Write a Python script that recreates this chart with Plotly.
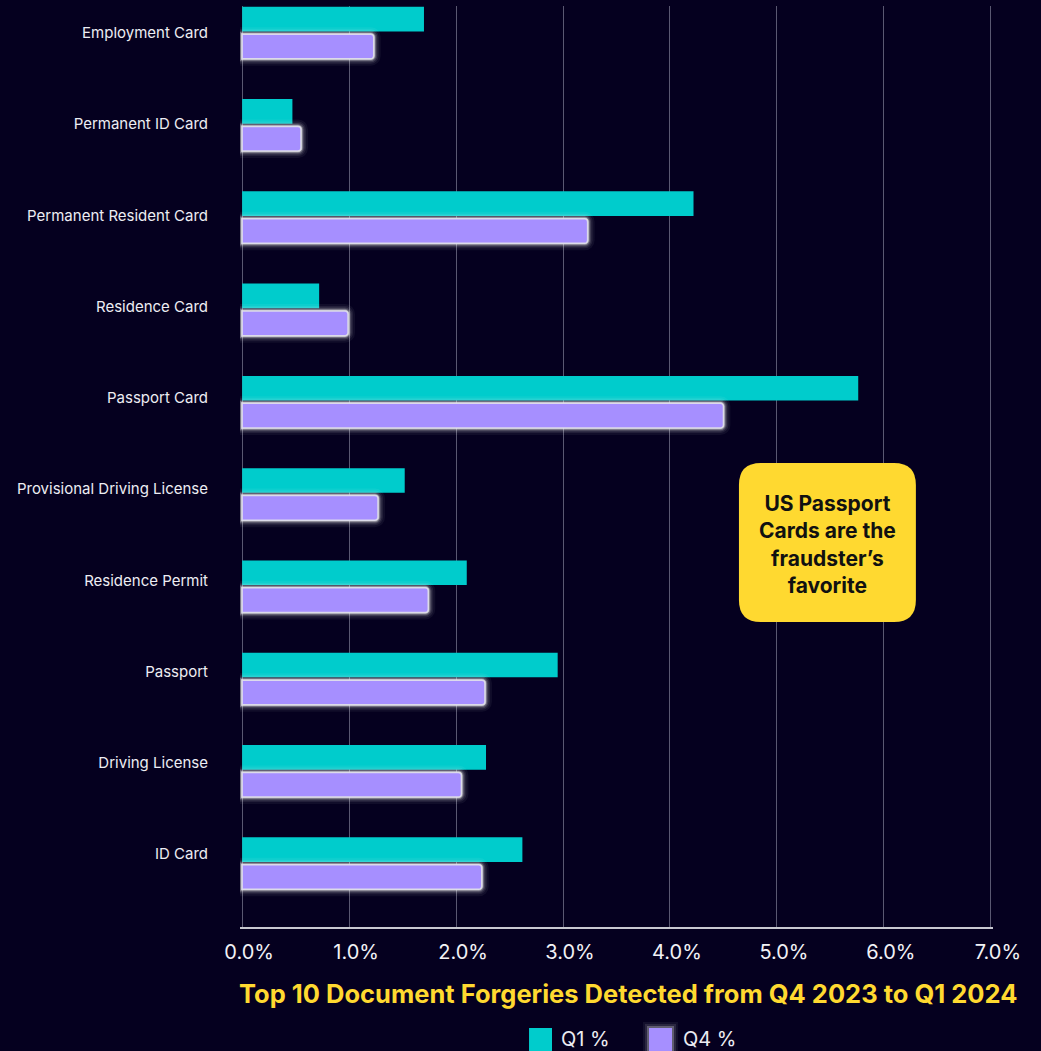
import plotly.graph_objects as go

# Document types, top to bottom
categories = [
    "Employment Card",
    "Permanent ID Card",
    "Permanent Resident Card",
    "Residence Card",
    "Passport Card",
    "Provisional Driving License",
    "Residence Permit",
    "Passport",
    "Driving License",
    "ID Card",
]
# Share of detected forgeries (%)
q1_pct = [1.70, 0.47, 4.22, 0.72, 5.76, 1.52, 2.10, 2.95, 2.28, 2.62]
q4_pct = [1.23, 0.55, 3.23, 0.99, 4.50, 1.27, 1.74, 2.27, 2.05, 2.24]

x_tick_vals = [0, 1, 2, 3, 4, 5, 6, 7]
x_tick_text = ["0.0%", "1.0%", "2.0%", "3.0%", "4.0%", "5.0%", "6.0%", "7.0%"]

BG = "#05001F"
CYAN = "#00CCCC"
LAVENDER = "#A68FFF"
YELLOW = "#FFD930"
FONT = "Inter"

# pixel frame of the 0%..7% span, used to place the callout, title and legend
L, R, T, B = 242, 991, 6, 927
X_PAD = 0.02                      # small range padding so the end gridlines draw
PX_PER_UNIT = (R - L) / 7
PAD_PX = X_PAD * PX_PER_UNIT
PL, PR = L - PAD_PX, R + PAD_PX   # actual plot-area edges


def fx(p):
    return (p - PL) / (PR - PL)


def fy(p):
    return (B - p) / (B - T)


BAR_W = 0.267
Q1_OFF = -0.282
Q4_OFF = 0.015

fig = go.Figure()

fig.add_trace(go.Bar(
    y=categories, x=q1_pct, orientation="h", name="Q1 %",
    width=BAR_W, offset=Q1_OFF,
    marker=dict(color=CYAN, line=dict(width=0)),
    showlegend=False,
))

# soft white halo behind the Q4 bars
for lw, alpha in [(14, 0.05), (10, 0.08), (7, 0.13), (4.5, 0.25), (2.5, 0.45)]:
    fig.add_trace(go.Bar(
        y=categories, x=q4_pct, orientation="h",
        width=BAR_W, offset=Q4_OFF,
        marker=dict(color="rgba(0,0,0,0)", cornerradius=3,
                    line=dict(width=lw, color=f"rgba(255,255,255,{alpha})")),
        hoverinfo="skip", showlegend=False,
    ))

fig.add_trace(go.Bar(
    y=categories, x=q4_pct, orientation="h", name="Q4 %",
    width=BAR_W, offset=Q4_OFF,
    marker=dict(color=LAVENDER, cornerradius=3,
                line=dict(width=1.5, color="rgba(225,225,235,0.9)")),
    showlegend=False,
))

# second category axis carrying only the row labels
fig.add_trace(go.Scatter(
    y=categories, x=[None] * len(categories), yaxis="y2",
    mode="markers", hoverinfo="skip", showlegend=False,
))

shapes = []
annotations = []

# rounded yellow callout
x0, x1 = fx(739), fx(916)
y0, y1 = fy(622), fy(463)
rx, ry = 22 / (PR - PL), 22 / (B - T)
path = (
    f"M {x0+rx},{y0} L {x1-rx},{y0} Q {x1},{y0} {x1},{y0+ry} "
    f"L {x1},{y1-ry} Q {x1},{y1} {x1-rx},{y1} "
    f"L {x0+rx},{y1} Q {x0},{y1} {x0},{y1-ry} "
    f"L {x0},{y0+ry} Q {x0},{y0} {x0+rx},{y0} Z"
)
shapes.append(dict(type="path", path=path, xref="paper", yref="paper",
                   fillcolor=YELLOW, line=dict(width=0), layer="above"))
annotations.append(dict(
    x=fx(827.5), y=fy(544), xref="paper", yref="paper",
    xanchor="center", yanchor="middle",
    text="<b>US Passport<br>Cards are the<br>fraudster’s<br>favorite</b>",
    showarrow=False, align="center",
    font=dict(family=FONT, size=21, color="#111111"),
))

# chart title under the axis
annotations.append(dict(
    x=fx(628), y=fy(993), xref="paper", yref="paper",
    text="<b>Top 10 Document Forgeries Detected from Q4 2023 to Q1 2024</b>",
    showarrow=False, xanchor="center", yanchor="middle",
    font=dict(family=FONT, size=25.5, color=YELLOW),
))

# legend
for (bx, tx, label, color, glow) in [(529, 559, "Q1 %", CYAN, False),
                                     (649, 681, "Q4 %", LAVENDER, True)]:
    if glow:
        for pad, alpha in [(6, 0.06), (4, 0.1), (2, 0.25)]:
            shapes.append(dict(
                type="rect", xref="paper", yref="paper",
                x0=fx(bx - pad), x1=fx(bx + 23 + pad),
                y0=fy(1051 + pad), y1=fy(1028 - pad),
                fillcolor=f"rgba(255,255,255,{alpha})", line=dict(width=0),
            ))
    shapes.append(dict(
        type="rect", xref="paper", yref="paper",
        x0=fx(bx), x1=fx(bx + 23), y0=fy(1051), y1=fy(1028),
        fillcolor=color, line=dict(width=0),
    ))
    annotations.append(dict(
        x=fx(tx), y=fy(1039), xref="paper", yref="paper",
        text=label, showarrow=False, xanchor="left", yanchor="middle",
        font=dict(family=FONT, size=20, color="#ECECF2"),
    ))

fig.update_layout(
    width=1041, height=1051,
    paper_bgcolor=BG, plot_bgcolor=BG,
    margin=dict(l=PL, r=1041 - PR, t=T, b=1051 - B, pad=0),
    barmode="overlay",
    showlegend=False,
    shapes=shapes,
    annotations=annotations,
    font=dict(family=FONT, color="#FFFFFF"),
    xaxis=dict(
        range=[-X_PAD, 7 + X_PAD], tickvals=x_tick_vals, ticktext=x_tick_text,
        showgrid=True, gridcolor="rgba(160,160,180,0.55)", gridwidth=1,
        zeroline=False,
        showline=True, linecolor="#C8C8D0", linewidth=2,
        ticks="", ticklabelstandoff=6, ticklabelshift=7,
        tickfont=dict(family=FONT, size=20, color="#F2F2F6"),
        fixedrange=True,
    ),
    yaxis=dict(
        type="category", categoryorder="array", categoryarray=categories,
        range=[9.69, -0.29],
        showgrid=False, zeroline=False, showline=False,
        showticklabels=False, ticks="",
        fixedrange=True,
    ),
    yaxis2=dict(
        type="category", categoryorder="array", categoryarray=categories,
        overlaying="y", side="left",
        range=[9.80, -0.296],
        showgrid=False, zeroline=False, showline=False,
        ticks="", ticklabelstandoff=int(round(33 - PAD_PX)),
        tickfont=dict(family=FONT, size=15, color="#EDEDF3"),
        fixedrange=True,
    ),
)

fig.write_html("out.html")
